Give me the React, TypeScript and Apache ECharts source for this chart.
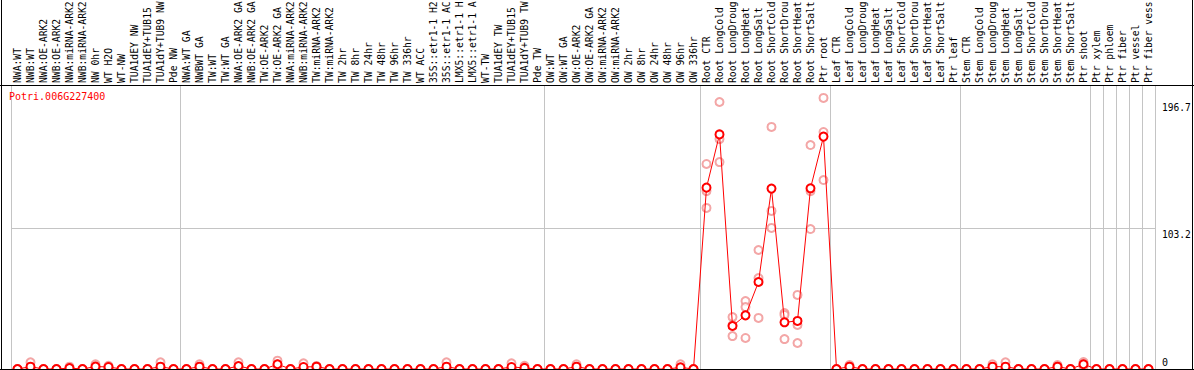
import { useEffect, useRef } from "react";
import * as echarts from "echarts";

const FONT = "'DejaVu Sans Mono', monospace";

const geneId = "Potri.006G227400";

// ---- Group 1: NW samples
const group1Labels = [
  "NWA:WT", "NWB:WT", "NWA:OE-ARK2", "NWB:OE-ARK2", "NWA:miRNA-ARK2", "NWB:miRNA-ARK2",
  "NW 0hr", "WT H2O", "WT-NW", "TUA1dEY NW", "TUA1dEY+TUB15", "TUA1dY+TUB9 NW", "Pde NW",
];
const group1Means = [0, 1.7, 0, 0, 0.7, 0, 1.8, 1.5, 0, 0, 0, 1.7, 0];
const group1Reps = [
  [0, 0, 0], [4.9, 0.2, 0], [0, 0, 0], [0, 0, 0], [1.7, 0.3, 0.1], [0, 0, 0],
  [3.5, 1.7, 0.2], [2.4, 1.8, 0.4], [0, 0, 0], [0, 0, 0], [0, 0, 0], [4.9, 0.3, 0], [0, 0, 0],
];

// ---- Group 2: TW samples
const group2Labels = [
  "NWA:WT GA", "NWBWT GA", "TW:WT", "TW:WT GA", "NWA:OE-ARK2 GA", "NWB:OE-ARK2 GA",
  "TW:OE-ARK2", "TW:OE-ARK2 GA", "NWA:miRNA-ARK2", "NWB:miRNA-ARK2", "TW:miRNA-ARK2",
  "TW:miRNA-ARK2", "TW 2hr", "TW 8hr", "TW 24hr", "TW 48hr", "TW 96hr", "TW 336hr",
  "WT ACC", "35S::etr1-1 H2", "35S::etr1-1 AC", "LMX5::etr1-1 H", "LMX5::etr1-1 A",
  "WT-TW", "TUA1dEY TW", "TUA1dEY+TUB15", "TUA1dY+TUB9 TW", "Pde TW",
];
const group2Means = [
  0, 1.7, 0, 0, 2.2, 0, 0, 3.5, 0, 1.5, 1.7, 0, 0, 0,
  0, 0, 0, 0, 0, 0, 1.7, 0, 0, 0, 0, 1.5, 0.8, 0,
];
const group2Reps = [
  [0, 0, 0], [3.5, 1.4, 0.2], [0, 0, 0], [0, 0, 0], [4.9, 1.5, 0.2], [0, 0, 0],
  [0, 0, 0], [6.1, 3.4, 1.0], [0, 0, 0], [4.2, 0.3, 0], [2.2, 1.9, 1.0], [0, 0, 0],
  [0, 0, 0], [0, 0, 0], [0, 0, 0], [0, 0, 0], [0, 0, 0], [0, 0, 0],
  [0, 0, 0], [0, 0, 0], [4.9, 0.2, 0], [0, 0, 0], [0, 0, 0],
  [0, 0, 0], [0, 0, 0], [4.2, 0.3, 0], [2.4, 0, 0], [0, 0, 0],
];

// ---- Group 3: OW samples
const group3Labels = [
  "OW:WT", "OW:WT GA", "OW:OE-ARK2", "OW:OE-ARK2 GA", "OW:miRNA-ARK2", "OW:miRNA-ARK2",
  "OW 2hr", "OW 8hr", "OW 24hr", "OW 48hr", "OW 96hr", "OW 336hr",
];
const group3Means = [0, 0, 1.7, 0, 0, 0, 0, 0, 0, 0, 1.2, 0];
const group3Reps = [
  [0, 0, 0], [0, 0, 0], [3.5, 1.4, 0.2], [0, 0, 0], [0, 0, 0], [0, 0, 0],
  [0, 0, 0], [0, 0, 0], [0, 0, 0], [0, 0, 0], [3.5, 0.1, 0], [0, 0, 0],
];

// ---- Group 4: Root
const group4Labels = [
  "Root CTR", "Root LongCold", "Root LongDroug", "Root LongHeat", "Root LongSalt",
  "Root ShortCold", "Root ShortDrou", "Root ShortHeat", "Root ShortSalt", "Ptr root",
];
const group4Means = [133.2, 172.3, 31.6, 39.4, 63.9, 132.5, 34.3, 35.3, 132.7, 170.7];
const group4Reps = [
  [150.6, 130.7, 118.3], [196.1, 168.9, 152.0], [38.2, 24.2, 32.3], [49.9, 45.5, 22.8],
  [87.4, 66.8, 37.5], [177.8, 116.1, 103.6], [41.1, 39.7, 22.0], [54.4, 32.3, 19.1],
  [164.5, 130.7, 102.8], [199.1, 174.1, 138.8],
];

// ---- Group 5: Leaf
const group5Labels = [
  "Leaf CTR", "Leaf LongCold", "Leaf LongDroug", "Leaf LongHeat", "Leaf LongSalt",
  "Leaf ShortCold", "Leaf ShortDrou", "Leaf ShortHeat", "Leaf ShortSalt", "Ptr leaf",
];
const group5Means = [0, 1.7, 0, 0, 0, 0, 0, 0, 0, 0];
const group5Reps = [
  [0, 0, 0], [2.9, 1.8, 0.4], [0, 0, 0], [0, 0, 0], [0, 0, 0],
  [0, 0, 0], [0, 0, 0], [0, 0, 0], [0, 0, 0], [0, 0, 0],
];

// ---- Group 6: Stem
const group6Labels = [
  "Stem CTR", "Stem LongCold", "Stem LongDroug", "Stem LongHeat", "Stem LongSalt",
  "Stem ShortCold", "Stem ShortDrou", "Stem ShortHeat", "Stem ShortSalt", "Ptr shoot",
];
const group6Means = [0, 0, 1.7, 1.7, 0, 0, 0, 1.7, 0, 3.5];
const group6Reps = [
  [0, 0, 0], [0, 0, 0], [3.5, 1.4, 0.2], [4.9, 0.2, 0], [0, 0, 0],
  [0, 0, 0], [0, 0, 0], [2.9, 1.8, 0.4], [0, 0, 0], [5.1, 3.6, 1.8],
];

// ---- Group 7: wood tissues
const group7Labels = ["Ptr xylem", "Ptr phloem", "Ptr fiber", "Ptr vessel", "Ptr fiber vess"];
const group7Means = [0, 0, 0, 0, 0];
const group7Reps = [[0, 0, 0], [0, 0, 0], [0, 0, 0], [0, 0, 0], [0, 0, 0]];

const categories = [
  ...group1Labels, ...group2Labels, ...group3Labels, ...group4Labels,
  ...group5Labels, ...group6Labels, ...group7Labels,
];
const means = [
  ...group1Means, ...group2Means, ...group3Means, ...group4Means,
  ...group5Means, ...group6Means, ...group7Means,
];
const reps = [
  ...group1Reps, ...group2Reps, ...group3Reps, ...group4Reps,
  ...group5Reps, ...group6Reps, ...group7Reps,
];

// first category index of each group (group separators)
const groupStarts = [0, 13, 41, 53, 63, 73, 83, 84, 85, 86, 87];
const yTickValues = [0, 103.2, 196.7];
const gridLineValue = 103.2;
const yMax = 208.6;

export default function App() {
  const ref = useRef<HTMLDivElement>(null);

  useEffect(() => {
    if (!ref.current) return;
    const chart = echarts.init(ref.current, null, { renderer: "svg" });
    const repPoints: [number, number][] = [];
    reps.forEach((r, i) => r.forEach((v) => repPoints.push([i, v])));

    chart.setOption({
      animation: false,
      backgroundColor: "#ffffff",
      title: {
        text: geneId,
        left: 9,
        top: 91,
        padding: 0,
        textStyle: { fontFamily: FONT, fontSize: 10, color: "#ff0000", fontWeight: "normal" },
      },
      grid: {
        left: 11,
        right: 39,
        top: 85,
        bottom: 1,
        containLabel: false,
        outerBoundsMode: "none",
      },
      xAxis: {
        type: "category",
        position: "top",
        data: categories,
        boundaryGap: true,
        axisLine: { show: false },
        axisTick: { show: false },
        axisLabel: {
          interval: 0,
          rotate: 90,
          margin: 2,
          fontFamily: FONT,
          fontSize: 9.7,
          color: "#000000",
        },
        splitLine: {
          show: true,
          interval: (index: number) => groupStarts.includes(index),
          lineStyle: { color: "#c4c4c4", width: 1 },
        },
      },
      yAxis: {
        type: "value",
        position: "right",
        min: 0,
        max: yMax,
        axisLine: { show: false },
        axisTick: { show: false },
        splitLine: { show: false },
        axisLabel: {
          customValues: yTickValues,
          margin: 7,
          fontFamily: FONT,
          fontSize: 10,
          color: "#000000",
          verticalAlign: "middle",
          formatter: (v: number) => (v === 0 ? `{low|${v}}` : `{high|${v}}`),
          rich: {
            low: { fontFamily: FONT, fontSize: 10, color: "#000000", padding: [0, 0, 14, 0] },
            high: { fontFamily: FONT, fontSize: 9.6, color: "#000000", padding: [12, 0, 0, 0] },
          },
        },
      },
      series: [
        {
          type: "scatter",
          data: repPoints,
          symbol: "emptyCircle",
          symbolSize: 8,
          itemStyle: { color: "#f09090", borderWidth: 1 },
          z: 2,
          silent: true,
        },
        {
          type: "line",
          data: means,
          symbol: "emptyCircle",
          symbolSize: 8,
          showAllSymbol: true,
          itemStyle: { color: "#ff0000", borderWidth: 1.3 },
          lineStyle: { color: "#ff0000", width: 1 },
          z: 3,
          silent: true,
          markLine: {
            silent: true,
            symbol: "none",
            label: { show: false },
            lineStyle: { color: "#c4c4c4", type: "solid", width: 1 },
            data: [{ yAxis: gridLineValue }],
            z: 1,
          },
        },
      ],
      graphic: [
        { type: "line", z: 100, shape: { x1: 1.5, y1: 0, x2: 1.5, y2: 370 }, style: { stroke: "#000", lineWidth: 1 } },
        { type: "line", z: 100, shape: { x1: 1192.5, y1: 0, x2: 1192.5, y2: 370 }, style: { stroke: "#000", lineWidth: 1 } },
        { type: "line", z: 100, shape: { x1: 0, y1: 85.5, x2: 1194, y2: 85.5 }, style: { stroke: "#000", lineWidth: 1 } },
        { type: "line", z: 100, shape: { x1: 0, y1: 369.5, x2: 1194, y2: 369.5 }, style: { stroke: "#000", lineWidth: 1 } },
      ],
    });
    return () => chart.dispose();
  }, []);

  return (
    <div
      ref={ref}
      style={{ position: "absolute", left: 0, top: 0, width: 1194, height: 370 }}
    />
  );
}
